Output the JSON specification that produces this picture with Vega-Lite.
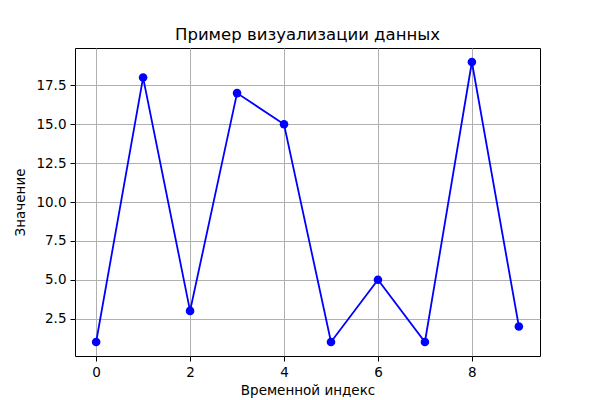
{
  "$schema": "https://vega.github.io/schema/vega-lite/v6.json",
  "width": 465,
  "height": 308,
  "autosize": {"type": "none"},
  "padding": {"left": 75, "top": 48, "right": 60, "bottom": 44},
  "background": "white",
  "title": {"text": "Пример визуализации данных", "font": "DejaVu Sans", "fontSize": 16.5, "fontWeight": "normal", "color": "black", "offset": 5},
  "config": {
    "view": {"stroke": "black", "strokeWidth": 1},
    "axis": {
      "domain": false,
      "grid": true,
      "gridColor": "#b0b0b0",
      "gridWidth": 1,
      "tickColor": "black",
      "tickSize": 5,
      "tickWidth": 1,
      "labelFont": "DejaVu Sans",
      "labelFontSize": 13.5,
      "labelColor": "black",
      "labelPadding": 4,
      "titleFont": "DejaVu Sans",
      "titleFontSize": 13.5,
      "titleFontWeight": "normal",
      "titleColor": "black"
    }
  },
  "data": {"values": [
    {"t": 0, "v": 1}, {"t": 1, "v": 18}, {"t": 2, "v": 3}, {"t": 3, "v": 17}, {"t": 4, "v": 15},
    {"t": 5, "v": 1}, {"t": 6, "v": 5}, {"t": 7, "v": 1}, {"t": 8, "v": 19}, {"t": 9, "v": 2}
  ]},
  "encoding": {
    "x": {"field": "t", "type": "quantitative", "scale": {"domain": [-0.45, 9.45], "nice": false, "zero": false},
      "axis": {"values": [0, 2, 4, 6, 8], "title": "Временной индекс", "titlePadding": 5, "labelFlush": false}},
    "y": {"field": "v", "type": "quantitative", "scale": {"domain": [0.1, 19.9], "nice": false, "zero": false},
      "axis": {"values": [2.5, 5, 7.5, 10, 12.5, 15, 17.5], "format": ".1f", "title": "Значение", "titlePadding": 8, "labelFlush": false}}
  },
  "layer": [
    {"mark": {"type": "line", "color": "blue", "strokeWidth": 1.8}},
    {"mark": {"type": "point", "filled": true, "color": "blue", "size": 74, "opacity": 1}}
  ]
}
